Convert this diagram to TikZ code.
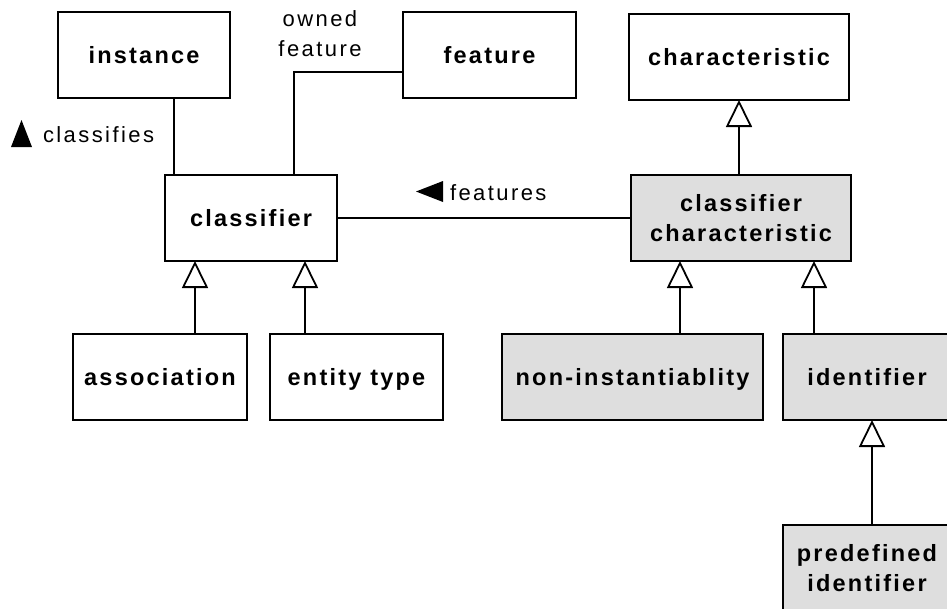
\documentclass[tikz,border=0pt]{standalone}
\usepackage{fontspec}
\setmainfont{Liberation Sans}
\newfontfamily\boxfont[LetterSpace=9.5]{Liberation Sans}
\newfontfamily\lblfont[LetterSpace=11]{Liberation Sans}
\usetikzlibrary{arrows.meta}
\definecolor{boxgray}{HTML}{DEDEDE}
\begin{document}
\begin{tikzpicture}[x=1pt,y=-1pt,
  box/.style={draw=black, line width=1.8pt, fill=white, inner sep=0pt, outer sep=0pt,
    align=center, minimum height=86pt, font=\boxfont\bfseries\fontsize{23.5}{30}\selectfont},
  onel/.style={text height=17pt, text depth=0pt},
  graybox/.style={box, fill=boxgray},
  lbl/.style={inner sep=0pt, outer sep=0pt, align=center, font=\lblfont\fontsize{22}{30}\selectfont},
  conn/.style={line width=1.8pt},
  gen/.style={conn, -{Triangle[open, width=26pt, length=27pt, fill=white]}},
]
\useasboundingbox (0,0) rectangle (947,608);
\clip (0,0) rectangle (947,608);

% boxes
\node[box, onel, minimum width=172pt] (instance) at (144,55) {instance};
\node[box, onel, minimum width=173pt] (feature) at (489.5,55) {feature};
\node[box, onel, minimum width=220pt] (characteristic) at (739,57) {characteristic};
\node[box, onel, minimum width=172pt] (classifier) at (251,218) {classifier};
\node[graybox, minimum width=220pt] (clchar) at (741,218) {classifier\\characteristic};
\node[box, onel, minimum width=174pt] (association) at (160,377) {association};
\node[box, onel, minimum width=173pt] (entity) at (356.5,377) {entity type};
\node[graybox, onel, minimum width=261pt] (noninst) at (632.5,377) {non-instantiablity};
\node[graybox, onel, minimum width=168pt] (identifier) at (867,377) {identifier};
\node[graybox, minimum width=168pt] (predef) at (867,568) {predefined\\identifier};

% x / y positions of connectors
\coordinate (xinst) at (174,0);
\coordinate (xfeat) at (294,0);
\coordinate (yfeat) at (0,72);
\coordinate (xassoc) at (195,0);
\coordinate (xent) at (305,0);
\coordinate (xnon) at (680,0);
\coordinate (xid) at (814,0);
\coordinate (xpre) at (872,0);

% associations
\draw[conn] (instance.south -| xinst) -- (classifier.north -| xinst);
\draw[conn] (feature.west |- yfeat) -| (classifier.north -| xfeat);
\draw[conn] (classifier.east) -- (clchar.west);

% generalizations
\draw[gen] (association.north -| xassoc) -- (classifier.south -| xassoc);
\draw[gen] (entity.north -| xent) -- (classifier.south -| xent);
\draw[gen] (clchar.north -| characteristic.south) -- (characteristic.south);
\draw[gen] (noninst.north -| xnon) -- (clchar.south -| xnon);
\draw[gen] (identifier.north -| xid) -- (clchar.south -| xid);
\draw[gen] (predef.north -| xpre) -- (identifier.south -| xpre);

% labels
\fill (11,147) -- (32,147) -- (21.5,120) -- cycle;
\node[lbl, anchor=base west] (lclass) at (43,142) {classifies};
\fill (443,181) -- (443,202) -- (416,191.5) -- cycle;
\node[lbl, anchor=base west] (lfeat) at (450,200) {features};
\node[lbl, anchor=north] (lowned) at (320,11) {owned\\feature};
\end{tikzpicture}
\end{document}
